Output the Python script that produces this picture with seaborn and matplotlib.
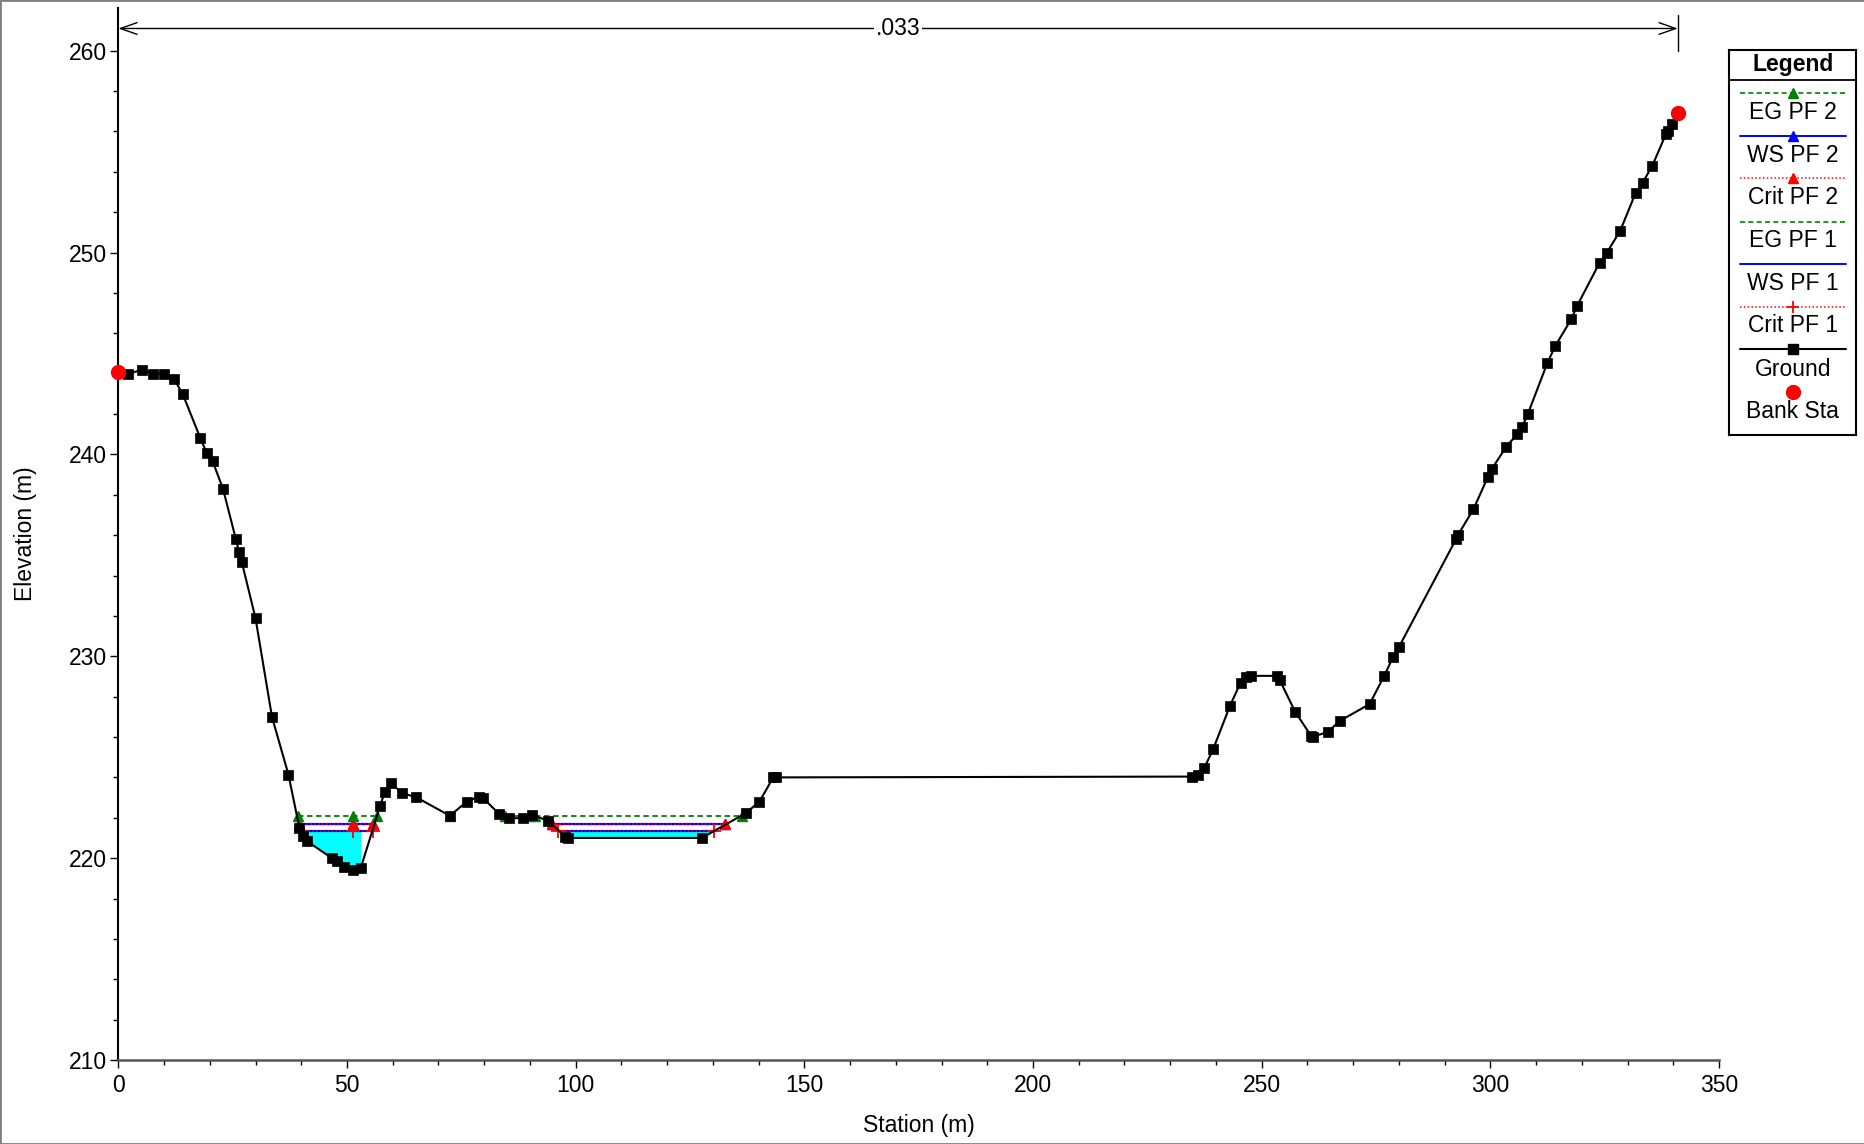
import numpy as np
import matplotlib
matplotlib.use("Agg")
import matplotlib.pyplot as plt
from matplotlib.patches import Rectangle
import seaborn as sns

# ---------------- data ----------------
ground_sta = [0.0, 2.2, 5.1, 7.5, 10.0, 12.2, 14.1, 17.9, 19.3, 20.6, 22.9, 25.7, 26.4, 27.0,
              30.0, 33.6, 37.2, 39.6, 40.4, 41.2, 46.7, 47.8, 49.4, 51.3, 53.0, 57.2, 58.3,
              59.6, 62.1, 65.1, 72.5, 76.2, 78.9, 79.8, 83.3, 85.5, 88.4, 90.4, 94.0, 97.7,
              98.4, 127.6, 137.2, 140.2, 143.2, 143.8, 234.7, 236.0, 237.5, 239.4, 243.1,
              245.4, 246.6, 247.6, 253.3, 254.0, 257.3, 260.8, 261.2, 264.4, 267.1, 273.6,
              276.8, 278.7, 280.0, 292.5, 292.9, 296.3, 299.5, 300.3, 303.5, 305.9, 307.0,
              308.2, 312.5, 314.2, 317.7, 319.0, 323.9, 325.5, 328.4, 331.8, 333.3, 335.4,
              338.4, 338.9, 339.7, 341.0]
ground_elev = [244.07, 244.0, 244.18, 244.0, 244.0, 243.74, 242.98, 240.83, 240.09, 239.68,
               238.29, 235.81, 235.16, 234.67, 231.89, 227.0, 224.14, 221.5, 221.1, 220.85,
               220.0, 219.88, 219.58, 219.42, 219.5, 222.56, 223.3, 223.71, 223.22, 223.02,
               222.1, 222.8, 223.05, 222.97, 222.18, 221.98, 221.98, 222.15, 221.85, 221.07,
               221.0, 221.0, 222.23, 222.8, 224.0, 224.0, 224.04, 224.13, 224.49, 225.4,
               227.56, 228.7, 228.96, 229.03, 229.03, 228.8, 227.26, 226.06, 226.02, 226.24,
               226.8, 227.63, 229.03, 229.95, 230.45, 235.8, 236.0, 237.28, 238.9, 239.27,
               240.39, 241.0, 241.38, 242.0, 244.55, 245.37, 246.7, 247.37, 249.5, 250.0,
               251.08, 252.97, 253.46, 254.29, 255.87, 256.04, 256.35, 256.93]

bank_sta = [0.0, 341.0]
bank_elev = [244.07, 256.93]

eg_pf2_elev = 222.1
eg_pf2_segments = [[39.2, 51.3, 56.5], [72.5], [84.6, 89.7], [91.1, 136.3]]
ws_pf2_elev = 221.68
ws_pf2_segments = [[39.5, 51.3, 55.8], [94.8, 132.7]]
crit_pf2_elev = 221.68
crit_pf2_segments = [[39.5, 51.3, 55.8], [94.8, 132.7]]
eg_pf1_elev = 221.68
eg_pf1_segments = [[39.5, 55.8], [94.8, 132.7]]
ws_pf1_elev = 221.32
ws_pf1_segments = [[40.0, 51.4, 55.6], [96.1, 130.3]]
crit_pf1_elev = 221.32
crit_pf1_segments = [[40.0, 51.4, 55.6], [96.1, 130.3]]

n_value_sta = [0.0, 341.0]
n_value_label = ".033"

legend_labels = ["EG PF 2", "WS PF 2", "Crit PF 2", "EG PF 1", "WS PF 1", "Crit PF 1",
                 "Ground", "Bank Sta"]

x_ticks = [0, 50, 100, 150, 200, 250, 300, 350]
y_ticks = [210, 220, 230, 240, 250, 260]

# ---------------- style ----------------
sns.set_theme(style="ticks")
plt.rcParams['font.family'] = ['Liberation Sans', 'DejaVu Sans']
plt.rcParams['text.color'] = 'black'
plt.rcParams['axes.labelcolor'] = 'black'
plt.rcParams['xtick.color'] = 'black'
plt.rcParams['ytick.color'] = 'black'

FS = 16.5

W, H = 1865, 1144
fig = plt.figure(figsize=(W / 100, H / 100), dpi=100)
fig.patch.set_facecolor("white")

x0, x1 = 118.3, 1719.0
ytop, ybot = 8.3, 1060.0
ax = fig.add_axes([x0 / W, 1 - ybot / H, (x1 - x0) / W, (ybot - ytop) / H])
ax.set_facecolor("white")

GREEN = "#008000"
BLUE = "#0000FF"
RED = "#FF0000"
CYAN = "#00FFFF"

gx = np.array(ground_sta)
gy = np.array(ground_elev)

# water fill (WS PF 1)
for seg in ws_pf1_segments:
    a, b = seg[0], seg[-1]
    inner = gx[(gx > a) & (gx < b)]
    xs = np.concatenate([[a], inner, [b]])
    ys = np.interp(xs, gx, gy)
    ax.fill_between(xs, ys, ws_pf1_elev, where=ys <= ws_pf1_elev + 0.05,
                    color=CYAN, linewidth=0, zorder=1)

# EG PF 1 (hidden behind WS PF2)
for seg in eg_pf1_segments:
    ax.plot(seg, [eg_pf1_elev] * len(seg), color=GREEN, linestyle=(0, (3, 2)), lw=1.0, zorder=2)

# WS lines
for seg in ws_pf1_segments:
    ax.plot(seg, [ws_pf1_elev] * len(seg), color=BLUE, lw=1.6, zorder=3)
for seg in ws_pf2_segments:
    ax.plot(seg, [ws_pf2_elev] * len(seg), color=BLUE, lw=1.6, marker="^",
            markersize=7, markeredgecolor=BLUE, zorder=3)

# crit lines
for seg in crit_pf1_segments:
    ax.plot(seg, [crit_pf1_elev] * len(seg), color=RED, linestyle=(0, (1, 1.5)), lw=1.1,
            marker="+", markersize=10, markeredgewidth=1.3, zorder=4)
for seg in crit_pf2_segments:
    ax.plot(seg, [crit_pf2_elev] * len(seg), color=RED, linestyle=(0, (1, 1.5)), lw=1.1,
            marker="^", markersize=7, markeredgecolor=RED, zorder=4)

# EG PF 2
for seg in eg_pf2_segments:
    ax.plot(seg, [eg_pf2_elev] * len(seg), color=GREEN, linestyle=(0, (3, 2)), lw=1.3,
            marker="^", markersize=7, markeredgecolor=GREEN, zorder=5)

# ground
sns.lineplot(x=gx, y=gy, sort=False, estimator=None, color="black", lw=1.5,
             marker="s", markersize=6.5, markeredgecolor="black", markeredgewidth=0.5,
             ax=ax, zorder=6)

# bank stations
ax.plot(bank_sta, bank_elev, linestyle="none", marker="o", markersize=10,
        color=RED, markeredgecolor=RED, zorder=7, clip_on=False)

# n-value annotation
ny = 261.1
ax.annotate("", xy=(n_value_sta[0], ny), xytext=(n_value_sta[1], ny),
            arrowprops=dict(arrowstyle="<->,head_length=1.0,head_width=0.35",
                            lw=1.0, color="black", shrinkA=0, shrinkB=0),
            zorder=8, annotation_clip=False)
ax.plot([n_value_sta[1], n_value_sta[1]], [260.0, 261.75], color="black", lw=1.0,
        clip_on=False, zorder=8)
ax.text(np.mean(n_value_sta), ny, n_value_label, ha="center", va="center", fontsize=FS,
        color="black", bbox=dict(facecolor="white", edgecolor="none", pad=1), zorder=9)

# axes
ax.set_xlim(0, 350)
ax.set_ylim(210, 262.1)
ax.set_xticks(x_ticks)
ax.set_yticks(y_ticks)
ax.set_xticks(np.arange(0, 351, 10), minor=True)
ax.set_yticks(np.arange(210, 262, 2), minor=True)
ax.tick_params(axis="both", which="major", direction="out", length=6, width=1.0,
               labelsize=FS, color="black", labelcolor="black")
ax.tick_params(axis="both", which="minor", direction="out", length=3.5, width=1.0,
               color="black")
ax.tick_params(axis="x", which="major", pad=4)
ax.tick_params(axis="y", which="major", pad=2)
for s in ["top", "right"]:
    ax.spines[s].set_visible(False)
ax.spines["left"].set_color("black")
ax.spines["left"].set_linewidth(1.5)
ax.spines["bottom"].set_color("#555555")
ax.spines["bottom"].set_linewidth(1.8)
ax.grid(False)
ax.set_xlabel("Station (m)", fontsize=FS, labelpad=12, color="black")
ax.set_ylabel("Elevation (m)", fontsize=FS, labelpad=23, color="black")

# ---------------- legend (custom box) ----------------
lx0, lx1, ly0, ly1 = 1729.3, 1856.0, 50.0, 435.0
lax = fig.add_axes([lx0 / W, 1 - ly1 / H, (lx1 - lx0) / W, (ly1 - ly0) / H])
lax.set_xlim(0, lx1 - lx0)
lax.set_ylim(ly1 - ly0, 0)
lax.set_xticks([])
lax.set_yticks([])
for s in lax.spines.values():
    s.set_color("black")
    s.set_linewidth(1.5)
lax.set_facecolor("white")
lw_ = lx1 - lx0
lax.plot([0, lw_], [30, 30], color="black", lw=1.3)
lax.text(lw_ / 2, 15, "Legend", ha="center", va="center", fontsize=FS, fontweight="bold",
         color="black")

sample_y = [42.7, 86.0, 128.3, 171.7, 214.0, 256.7, 299.3, 341.7]
text_y = [62.5, 105.5, 147.5, 190.5, 234.0, 276.0, 319.0, 361.0]
styles = [
    dict(color=GREEN, linestyle=(0, (3, 2)), lw=1.2, marker="^", markersize=7),
    dict(color=BLUE, linestyle="-", lw=1.4, marker="^", markersize=7),
    dict(color=RED, linestyle=(0, (1, 1.5)), lw=1.1, marker="^", markersize=7),
    dict(color=GREEN, linestyle=(0, (3, 2)), lw=1.2, marker=None),
    dict(color=BLUE, linestyle="-", lw=1.4, marker=None),
    dict(color=RED, linestyle=(0, (1, 1.5)), lw=1.1, marker="+", markersize=8, markeredgewidth=1.3),
    dict(color="black", linestyle="-", lw=1.5, marker="s", markersize=6.5),
    None,
]
lxa, lxb = 1740 - lx0, 1846 - lx0
for lab, sy, ty, st in zip(legend_labels, sample_y, text_y, styles):
    if st is None:
        lax.plot([lw_ / 2], [sy], linestyle="none", marker="o", markersize=10, color=RED)
    else:
        st = dict(st)
        mk = st.pop("marker")
        ms = st.pop("markersize", None)
        mew = st.pop("markeredgewidth", None)
        lax.plot([lxa, lxb], [sy, sy], **st)
        if mk is not None:
            kw = dict(linestyle="none", marker=mk, markersize=ms, color=st["color"])
            if mew:
                kw["markeredgewidth"] = mew
            lax.plot([lw_ / 2], [sy], **kw)
    lax.text(lw_ / 2, ty, lab, ha="center", va="center", fontsize=FS, color="black")

# figure border
fig.patches.append(Rectangle((0, 0), 1, 1, transform=fig.transFigure, fill=False,
                             edgecolor="#808080", lw=2, zorder=100))

fig.savefig("out.png", dpi=100, facecolor="white")
